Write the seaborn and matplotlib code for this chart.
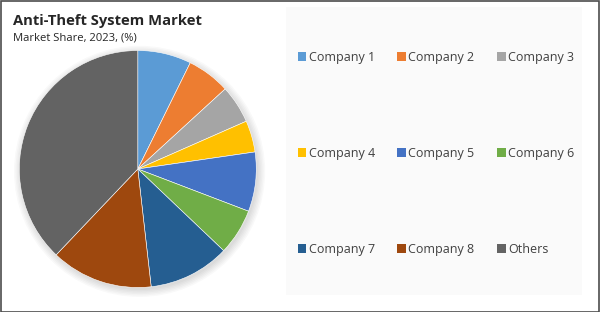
import matplotlib
matplotlib.use("Agg")
import matplotlib.pyplot as plt
import matplotlib.patches as mpatches
import seaborn as sns

sns.set_theme(style="white")
plt.rcParams['font.family'] = ['Open Sans', 'DejaVu Sans']

companies = ["Company 1", "Company 2", "Company 3", "Company 4", "Company 5",
             "Company 6", "Company 7", "Company 8", "Others"]
shares = [7.3, 5.9, 5.2, 4.3, 8.1, 6.3, 11.1, 13.9, 37.9]
colors = ["#5B9BD5", "#ED7D31", "#A5A5A5", "#FFC000", "#4472C4",
          "#70AD47", "#255E91", "#9E480E", "#636363"]
title = "Anti-Theft System Market"
subtitle = "Market Share, 2023, (%)"

W, H = 600, 312
fig = plt.figure(figsize=(W / 100, H / 100), dpi=100)
fig.patch.set_facecolor("white")

# outer border
fig.patches.append(mpatches.Rectangle((0.5 / W, 0.5 / H), 1 - 1.5 / W, 1 - 1.5 / H,
                                      transform=fig.transFigure, fill=False,
                                      edgecolor="#4d4d4d", linewidth=1.2, zorder=10))
# legend background panel
fig.patches.append(mpatches.Rectangle((286 / W, 1 - 295 / H), (582 - 286) / W, (295 - 7) / H,
                                      transform=fig.transFigure, facecolor="#fafafa",
                                      edgecolor="none", zorder=0))

cx, cy, r = 137.8, 169.0, 118.5
ax = fig.add_axes([(cx - r) / W, 1 - (cy + r) / H, 2 * r / W, 2 * r / H])
ax.set_facecolor("none")

# soft shadow
for k in range(6):
    ax.add_patch(mpatches.Circle((0.015, -0.02), 1.0 + 0.012 * k, facecolor="black",
                                 alpha=0.025, edgecolor="none", clip_on=False, zorder=0))

wedges, _ = ax.pie(shares, colors=colors, startangle=90, counterclock=False, radius=1,
                   wedgeprops=dict(edgecolor="white", linewidth=0.4, clip_on=False))
for wdg in wedges:
    wdg.set_zorder(2)
ax.set_xlim(-1, 1)
ax.set_ylim(-1, 1)
ax.set_aspect("equal")
ax.axis("off")

fig.text(13 / W, 1 - 25 / H, title, fontsize=10.6, fontweight="bold", color="#262626",
         ha="left", va="baseline")
fig.text(13 / W, 1 - 41 / H, subtitle, fontsize=8.1, color="#262626",
         ha="left", va="baseline")

# legend, row-wise order in 3 columns
handles = [mpatches.Patch(facecolor=c, edgecolor="none") for c in colors]
order = [0, 3, 6, 1, 4, 7, 2, 5, 8]
leg = fig.legend([handles[i] for i in order], [companies[i] for i in order],
                 ncol=3, loc="upper left", bbox_to_anchor=(297.5 / W, 1 - 50.5 / H),
                 frameon=False, fontsize=9.0, borderpad=0, borderaxespad=0,
                 handlelength=0.7, handleheight=0.7, handletextpad=0.2,
                 labelspacing=6.65, columnspacing=1.78, labelcolor="#404040")

fig.savefig("out.png", dpi=100, facecolor="white")
